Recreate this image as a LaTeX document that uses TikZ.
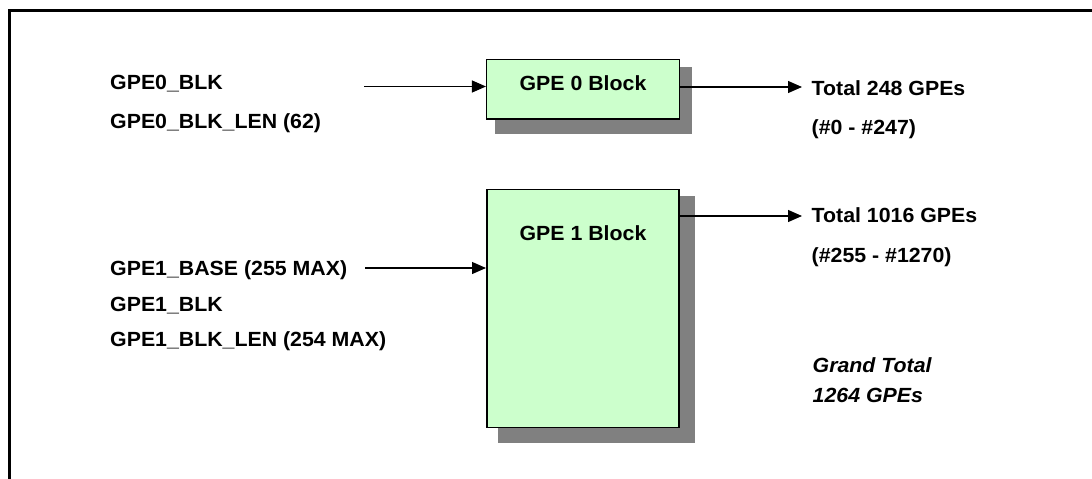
\documentclass[tikz,border=0pt]{standalone}
\usepackage{fontspec}
\setmainfont{Liberation Sans}[FakeStretch=1.04]
\usetikzlibrary{arrows.meta}
\definecolor{boxgreen}{HTML}{CCFFCC}
\definecolor{shadowgrey}{HTML}{808080}
\begin{document}
\begin{tikzpicture}[x=1pt,y=-1pt,
  lbl/.style={anchor=base west,inner sep=0pt,font=\fontsize{20.5}{24}\selectfont\bfseries},
  ilbl/.style={lbl,font=\fontsize{20.5}{24}\selectfont\bfseries\itshape},
  blocktext/.style={anchor=base,inner sep=0pt,font=\fontsize{20.5}{24}\selectfont\bfseries},
  block/.style={draw=black,line width=1.5pt,fill=boxgreen,inner sep=0pt},
  arr/.style={line width=1.2pt,-{Triangle[length=14pt,width=12pt]}},
  frameline/.style={line width=2.5pt}]
\useasboundingbox (0,0) rectangle (1092,479);
% frame (cropped)
\draw[frameline] (9.7,480) -- (9.7,10.5) -- (1093,10.5);
% shadows
\fill[shadowgrey] (495,66.7) rectangle (692,133.7);
\fill[shadowgrey] (498,196) rectangle (695,443.3);
% blocks
\node[block,minimum width=192.6pt,minimum height=59.7pt] (b0) at (583,89.2) {};
\node[block,minimum width=192.3pt,minimum height=238.4pt] (b1) at (582.9,308.5) {};
\node[blocktext] (t0) at (583,90.5) {GPE 0 Block};
\node[blocktext] (t1) at (583,240) {GPE 1 Block};
% left labels
\node[lbl] (l1) at (110,89.5) {GPE0\_BLK};
\node[lbl] (l2) at (110,128) {GPE0\_BLK\_LEN (62)};
\node[lbl] (l3) at (110,275) {GPE1\_BASE (255 MAX)};
\node[lbl] (l4) at (110,311) {GPE1\_BLK};
\node[lbl] (l5) at (110,346.5) {GPE1\_BLK\_LEN (254 MAX)};
% right labels
\node[lbl] (r1) at (811.5,95) {Total 248 GPEs};
\node[lbl] (r2) at (811.5,134) {(\#0 - \#247)};
\node[lbl] (r3) at (811.5,222) {Total 1016 GPEs};
\node[lbl] (r4) at (811.5,262) {(\#255 - \#1270)};
\node[ilbl] (r5) at (812.5,372.5) {Grand Total};
\node[ilbl] (r6) at (812.5,402.5) {1264 GPEs};
% connectors
\coordinate (in0) at (364,86.5);
\coordinate (in1) at (365,268);
\coordinate (out0) at (802,87);
\coordinate (out1) at (802,216);
\draw[arr] (in0) -- (in0 -| b0.west);
\draw[arr] (in1) -- (in1 -| b1.west);
\draw[arr] (b0.east |- out0) -- (out0);
\draw[arr] (b1.east |- out1) -- (out1);
\end{tikzpicture}
\end{document}
